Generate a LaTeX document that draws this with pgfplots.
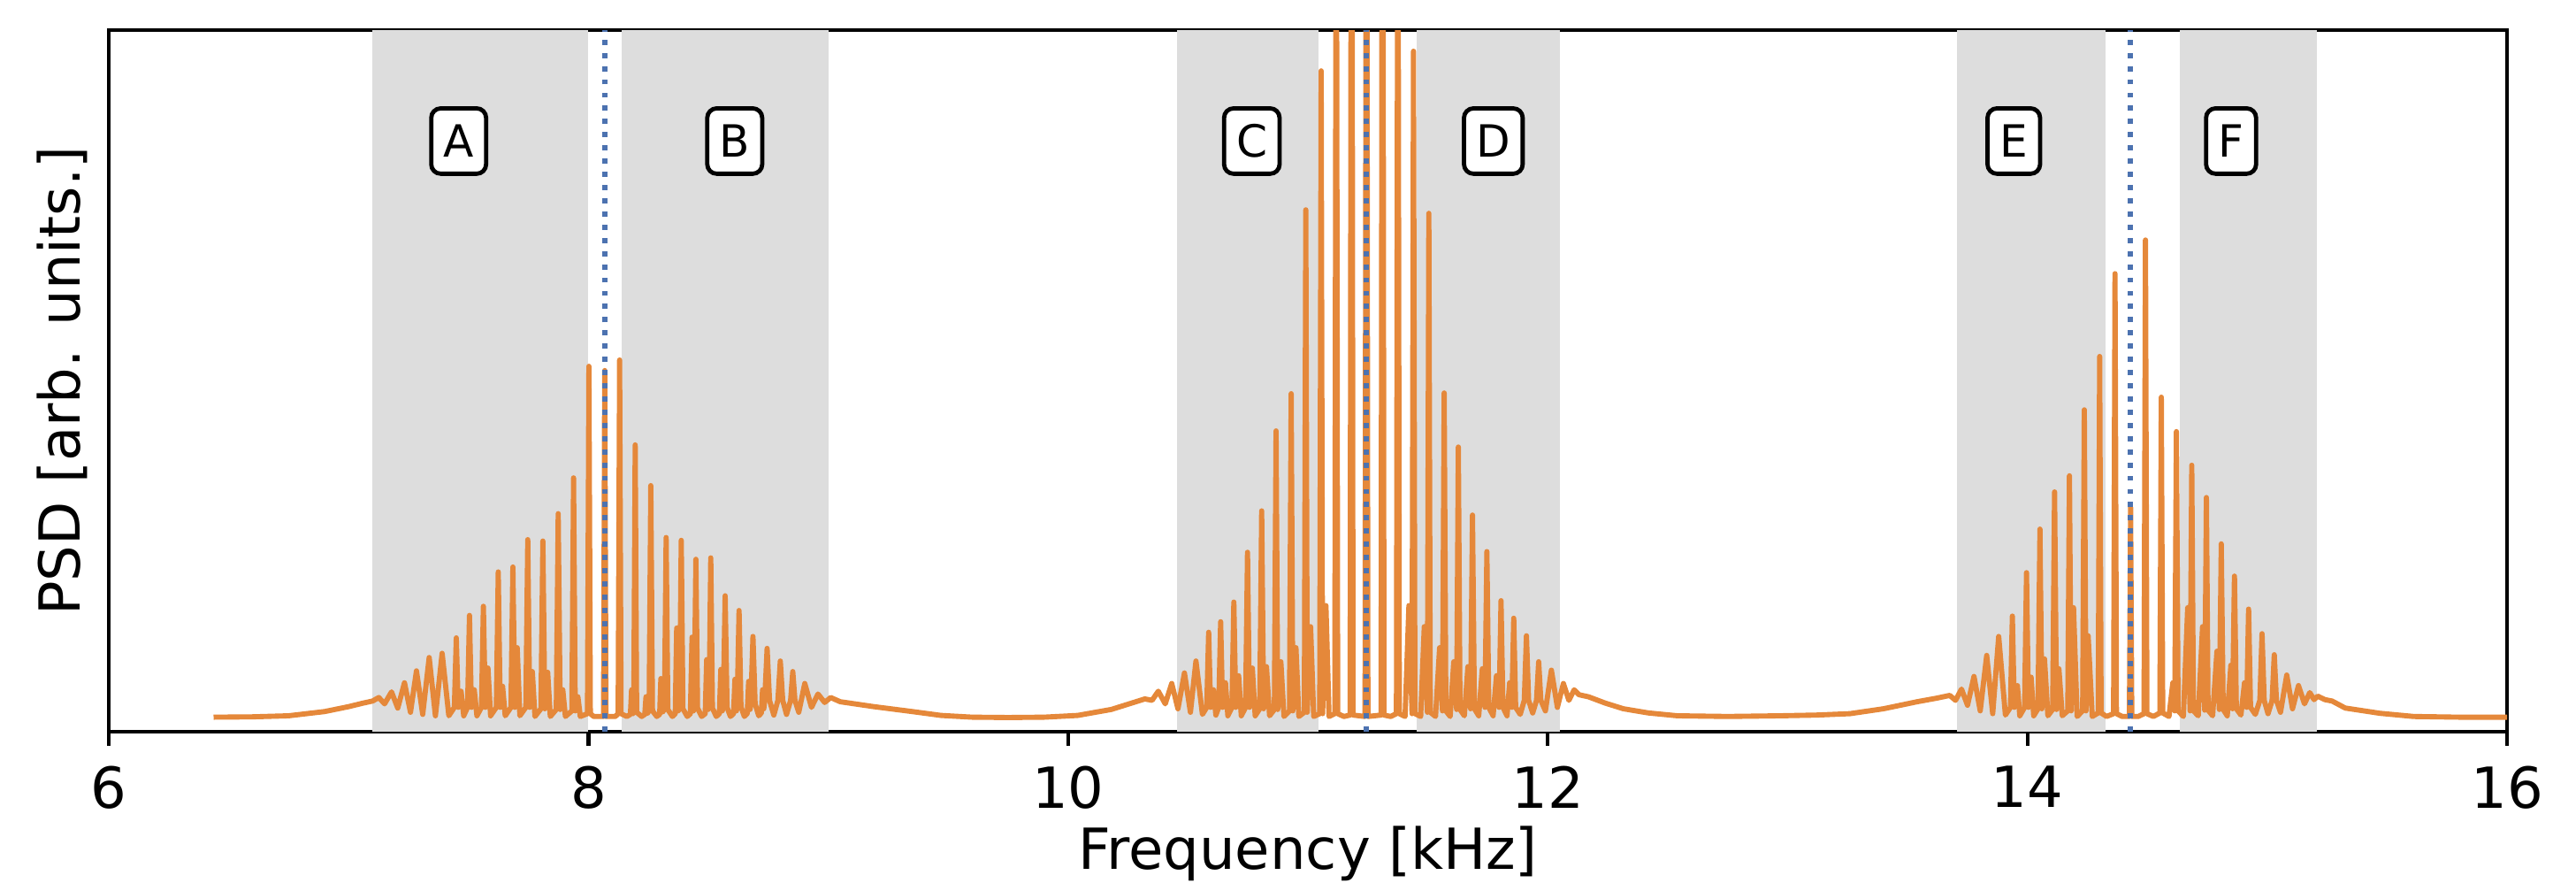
\documentclass[border=0pt]{standalone}
\usepackage{pgfplots}
\pgfplotsset{compat=1.18}
\usepackage{fontspec}
\setmainfont{DejaVu Sans}
\definecolor{psd}{HTML}{E5883A}
\definecolor{cline}{HTML}{4C72B0}
\definecolor{band}{HTML}{DDDDDD}
\begin{document}
\begin{tikzpicture}
\begin{axis}[
 name=ax,
 scale only axis, width=508.5pt, height=148.7pt,
 xmin=6, xmax=16, ymin=0, ymax=1,
 xtick={6,8,10,12,14,16}, ytick=\empty,
 xtick pos=bottom, tick align=outside,
 major tick length=3pt,
 every tick/.style={black, line width=0.8pt},
 axis line style={line width=0.8pt},
 /pgf/number format/assume math mode=true,
 tick label style={font=\fontsize{12}{14}\selectfont},
 xticklabel style={inner sep=0pt, anchor=north, yshift=-4pt},
 xlabel={Frequency [kHz]}, ylabel={PSD [arb. units.]},
 label style={font=\fontsize{12}{14}\selectfont},
 xlabel style={at={(axis description cs:0.5,0)}, anchor=base, inner sep=0pt, yshift=-29.1pt},
 ylabel style={at={(axis description cs:-0.0118,0.5)}, anchor=base, inner sep=0pt},
]
% shaded bands
\addplot[draw=none, fill=band] coordinates {(7.100,0) (7.100,1) (8.000,1) (8.000,0)} -- cycle;
\addplot[draw=none, fill=band] coordinates {(8.137,0) (8.137,1) (9.000,1) (9.000,0)} -- cycle;
\addplot[draw=none, fill=band] coordinates {(10.453,0) (10.453,1) (11.043,1) (11.043,0)} -- cycle;
\addplot[draw=none, fill=band] coordinates {(11.455,0) (11.455,1) (12.052,1) (12.052,0)} -- cycle;
\addplot[draw=none, fill=band] coordinates {(13.705,0) (13.705,1) (14.326,1) (14.326,0)} -- cycle;
\addplot[draw=none, fill=band] coordinates {(14.635,0) (14.635,1) (15.208,1) (15.208,0)} -- cycle;
% spectrum
\addplot[psd, line width=1.1pt, line join=round] table {
6.437 0.021
6.600 0.0215
6.750 0.023
6.900 0.029
7.000 0.036
7.060 0.041
7.100 0.044
7.126 0.049
7.150 0.040
7.179 0.057
7.205 0.034
7.233 0.070
7.258 0.028
7.283 0.087
7.309 0.025
7.336 0.106
7.362 0.023
7.390 0.112
7.418 0.023
7.441 0.035
7.449 0.134
7.457 0.035
7.469 0.058
7.480 0.023
7.496 0.035
7.504 0.166
7.512 0.035
7.524 0.060
7.535 0.023
7.554 0.035
7.562 0.179
7.570 0.035
7.581 0.091
7.592 0.023
7.616 0.035
7.624 0.228
7.632 0.035
7.642 0.065
7.653 0.023
7.677 0.035
7.685 0.235
7.693 0.035
7.703 0.120
7.714 0.023
7.739 0.035
7.747 0.274
7.755 0.035
7.766 0.086
7.777 0.022
7.802 0.033
7.810 0.272
7.818 0.033
7.830 0.085
7.841 0.022
7.866 0.032
7.874 0.311
7.882 0.032
7.893 0.060
7.904 0.022
7.931 0.030
7.938 0.362
7.945 0.030
7.956 0.050
7.966 0.022
7.996 0.026
8.002 0.521
8.008 0.026
8.022 0.022
8.063 0.022
8.068 0.515
8.073 0.022
8.112 0.022
8.124 0.026
8.130 0.530
8.136 0.026
8.160 0.022
8.175 0.025
8.180 0.060
8.185 0.026
8.189 0.028
8.195 0.409
8.201 0.028
8.222 0.022
8.235 0.025
8.240 0.050
8.245 0.026
8.253 0.030
8.260 0.351
8.267 0.030
8.285 0.022
8.297 0.025
8.302 0.076
8.308 0.028
8.317 0.032
8.324 0.277
8.331 0.032
8.350 0.022
8.362 0.026
8.368 0.148
8.374 0.030
8.380 0.033
8.387 0.273
8.394 0.033
8.412 0.022
8.425 0.026
8.432 0.135
8.438 0.030
8.441 0.034
8.448 0.246
8.455 0.034
8.472 0.022
8.487 0.026
8.493 0.103
8.499 0.032
8.503 0.034
8.510 0.248
8.517 0.034
8.533 0.022
8.546 0.026
8.552 0.089
8.558 0.030
8.562 0.035
8.570 0.194
8.578 0.035
8.592 0.022
8.605 0.026
8.611 0.075
8.617 0.030
8.620 0.036
8.628 0.173
8.636 0.036
8.650 0.022
8.662 0.026
8.668 0.072
8.674 0.032
8.677 0.040
8.686 0.136
8.695 0.040
8.710 0.023
8.721 0.027
8.726 0.060
8.731 0.033
8.735 0.045
8.745 0.119
8.755 0.045
8.773 0.024
8.790 0.045
8.800 0.101
8.810 0.045
8.826 0.025
8.843 0.045
8.852 0.086
8.861 0.045
8.877 0.028
8.902 0.069
8.930 0.035
8.957 0.054
8.985 0.042
9.010 0.049
9.050 0.043
9.190 0.036
9.350 0.029
9.470 0.0235
9.600 0.021
9.750 0.0205
9.900 0.021
10.040 0.0235
10.180 0.032
10.320 0.047
10.350 0.045
10.376 0.058
10.405 0.040
10.432 0.069
10.458 0.033
10.485 0.084
10.510 0.028
10.533 0.101
10.560 0.025
10.578 0.035
10.586 0.142
10.594 0.035
10.606 0.060
10.616 0.024
10.628 0.035
10.636 0.157
10.644 0.035
10.656 0.070
10.666 0.023
10.683 0.035
10.691 0.185
10.699 0.035
10.711 0.080
10.722 0.023
10.740 0.035
10.748 0.256
10.756 0.035
10.768 0.091
10.780 0.023
10.799 0.033
10.807 0.315
10.815 0.033
10.827 0.093
10.840 0.023
10.860 0.032
10.867 0.429
10.874 0.032
10.887 0.100
10.900 0.022
10.923 0.030
10.930 0.482
10.937 0.030
10.950 0.120
10.962 0.022
10.985 0.028
10.991 0.744
10.997 0.028
11.011 0.150
11.024 0.022
11.049 0.026
11.055 0.942
11.061 0.026
11.075 0.180
11.088 0.022
11.112 0.026
11.118 1.400
11.124 0.026
11.150 0.022
11.176 0.024
11.182 1.800
11.188 0.024
11.238 0.022
11.244 1.600
11.250 0.022
11.305 0.024
11.311 1.800
11.317 0.024
11.345 0.022
11.369 0.026
11.375 1.400
11.381 0.026
11.405 0.022
11.421 0.180
11.434 0.026
11.440 0.970
11.446 0.026
11.470 0.022
11.485 0.150
11.498 0.028
11.504 0.739
11.510 0.028
11.532 0.022
11.549 0.120
11.561 0.030
11.568 0.483
11.575 0.030
11.593 0.022
11.608 0.100
11.620 0.032
11.627 0.406
11.634 0.032
11.652 0.023
11.667 0.093
11.678 0.033
11.686 0.309
11.694 0.033
11.712 0.023
11.727 0.090
11.738 0.035
11.746 0.257
11.754 0.035
11.772 0.023
11.786 0.080
11.797 0.035
11.805 0.187
11.813 0.035
11.830 0.023
11.841 0.070
11.850 0.035
11.858 0.162
11.866 0.035
11.885 0.025
11.902 0.045
11.911 0.137
11.920 0.045
11.937 0.027
11.953 0.045
11.962 0.100
11.971 0.045
11.990 0.030
12.015 0.088
12.040 0.035
12.065 0.069
12.088 0.045
12.110 0.060
12.130 0.053
12.170 0.050
12.240 0.041
12.315 0.033
12.420 0.027
12.540 0.023
12.750 0.022
12.970 0.023
13.120 0.024
13.260 0.026
13.400 0.033
13.540 0.043
13.620 0.048
13.676 0.052
13.700 0.045
13.725 0.061
13.750 0.038
13.777 0.079
13.803 0.030
13.830 0.109
13.855 0.026
13.880 0.136
13.908 0.024
13.929 0.035
13.937 0.165
13.945 0.035
13.958 0.066
13.968 0.023
13.988 0.035
13.996 0.227
14.004 0.035
14.015 0.078
14.026 0.023
14.044 0.033
14.052 0.289
14.060 0.033
14.071 0.104
14.085 0.023
14.105 0.032
14.113 0.342
14.121 0.032
14.131 0.090
14.145 0.023
14.168 0.030
14.175 0.365
14.182 0.030
14.192 0.177
14.207 0.022
14.230 0.030
14.237 0.459
14.244 0.030
14.253 0.137
14.270 0.022
14.295 0.027
14.301 0.535
14.307 0.027
14.330 0.022
14.359 0.026
14.365 0.653
14.371 0.026
14.395 0.022
14.425 0.022
14.430 0.320
14.435 0.022
14.462 0.022
14.486 0.026
14.492 0.701
14.498 0.026
14.525 0.022
14.552 0.027
14.558 0.477
14.564 0.027
14.590 0.022
14.606 0.070
14.614 0.030
14.621 0.428
14.628 0.030
14.650 0.022
14.668 0.177
14.678 0.030
14.685 0.380
14.692 0.030
14.712 0.023
14.730 0.150
14.739 0.031
14.746 0.334
14.753 0.031
14.772 0.023
14.790 0.115
14.800 0.032
14.808 0.268
14.816 0.032
14.833 0.023
14.848 0.095
14.855 0.033
14.863 0.222
14.871 0.033
14.890 0.024
14.905 0.070
14.914 0.035
14.922 0.175
14.930 0.035
14.950 0.025
14.969 0.045
14.978 0.140
14.987 0.045
15.003 0.026
15.020 0.045
15.029 0.110
15.038 0.045
15.055 0.028
15.081 0.081
15.105 0.033
15.130 0.066
15.155 0.040
15.177 0.056
15.195 0.046
15.210 0.051
15.240 0.046
15.270 0.044
15.325 0.034
15.470 0.0265
15.610 0.022
15.800 0.021
16.000 0.021
};
% centre lines
\addplot[cline, line width=1.1pt, dash pattern=on 1.1pt off 1.7pt] coordinates {(8.068,0) (8.068,1)};
\addplot[cline, line width=1.1pt, dash pattern=on 1.1pt off 1.7pt] coordinates {(11.244,0) (11.244,1)};
\addplot[cline, line width=1.1pt, dash pattern=on 1.1pt off 1.7pt] coordinates {(14.430,0) (14.430,1)};
% region labels
\tikzset{lab/.style={draw, black, rounded corners=2pt, fill=white, line width=0.9pt, inner xsep=2.6pt, inner ysep=0pt, minimum height=13.85pt, font=\fontsize{9.4}{11}\selectfont}}
\node[lab] at (axis cs:7.459,0.842) {A};
\node[lab] at (axis cs:8.610,0.842) {B};
\node[lab] at (axis cs:10.766,0.842) {C};
\node[lab] at (axis cs:11.773,0.842) {D};
\node[lab] at (axis cs:13.943,0.842) {E};
\node[lab] at (axis cs:14.849,0.842) {F};
\end{axis}
\path ([shift={(-23.06pt,-31.9pt)}]ax.south west) rectangle ([shift={(14.6pt,6.4pt)}]ax.north east);
\end{tikzpicture}
\end{document}
